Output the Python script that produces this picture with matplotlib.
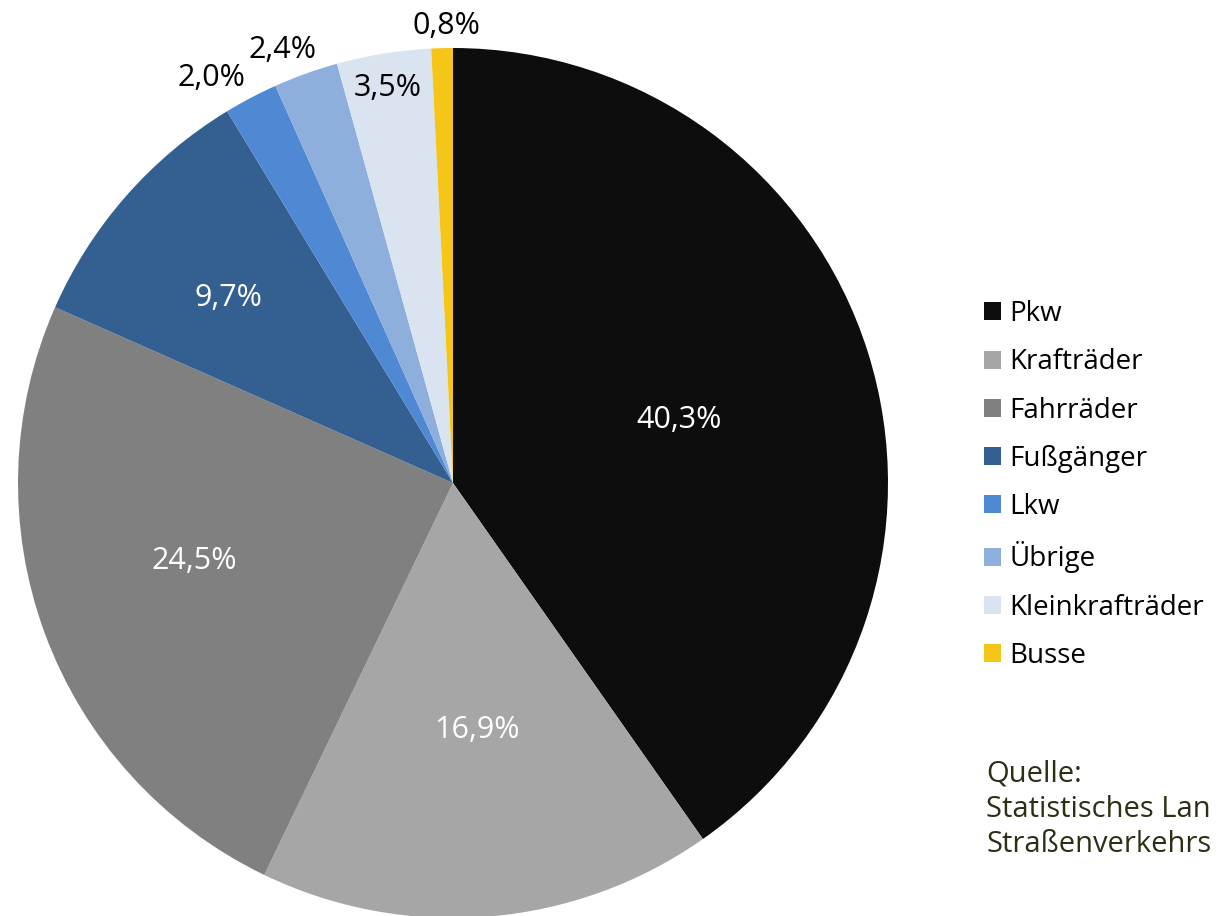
import numpy as np
import matplotlib.pyplot as plt

plt.rcParams['font.family'] = ['Open Sans', 'DejaVu Sans']

# --- Daten ---
categories = ['Pkw', 'Krafträder', 'Fahrräder', 'Fußgänger', 'Lkw',
              'Übrige', 'Kleinkrafträder', 'Busse']
shares = [40.3, 16.9, 24.5, 9.7, 2.0, 2.4, 3.5, 0.8]
share_labels = ['40,3%', '16,9%', '24,5%', '9,7%', '2,0%', '2,4%', '3,5%', '0,8%']
source_lines = ['Quelle:', 'Statistisches Lan', 'Straßenverkehrs']

# --- Stil ---
colors = ['#0d0d0d', '#a6a6a6', '#808080', '#335f91', '#4f89d4',
          '#8eaedb', '#dae4f1', '#f5c518']
label_colors = ['white', 'white', 'white', 'white', 'black', 'black', 'black', 'black']
label_radius = [0.54, 0.57, 0.62, 0.67, 1.085, 1.07, 0.92, 1.05]
label_shift = [-2.0, 0.8, -3.5, 1.8, 3.1, 1.7, 0.2, -0.6]  # Grad

fig = plt.figure(figsize=(12.2, 9.16), dpi=100)
ax = fig.add_axes([18 / 1220, -2 / 916, 870 / 1220, 870 / 916])

wedges, _ = ax.pie(shares, colors=colors, startangle=90, counterclock=False,
                   radius=1.0, normalize=True)
ax.set_xlim(-1, 1)
ax.set_ylim(-1, 1)
ax.set_aspect('equal')
ax.axis('off')

for w, lab, c, r, s in zip(wedges, share_labels, label_colors, label_radius, label_shift):
    mid = np.deg2rad((w.theta1 + w.theta2) / 2 + s)
    ax.text(r * np.cos(mid), r * np.sin(mid), lab, color=c, fontsize=22,
            ha='center', va='center', clip_on=False)

leg = fig.legend(wedges, categories, loc='upper left',
                 bbox_to_anchor=(984 / 1220, 1 - 300 / 916),
                 frameon=False, fontsize=20, handlelength=0.62, handleheight=0.62,
                 handletextpad=0.3, labelspacing=0.73, borderpad=0, borderaxespad=0)

fig.text(986 / 1220, 1 - 760 / 916, '\n'.join(source_lines),
         color='#2e2e14', fontsize=21, ha='left', va='top', linespacing=1.28)

fig.savefig('out.png', dpi=100)
